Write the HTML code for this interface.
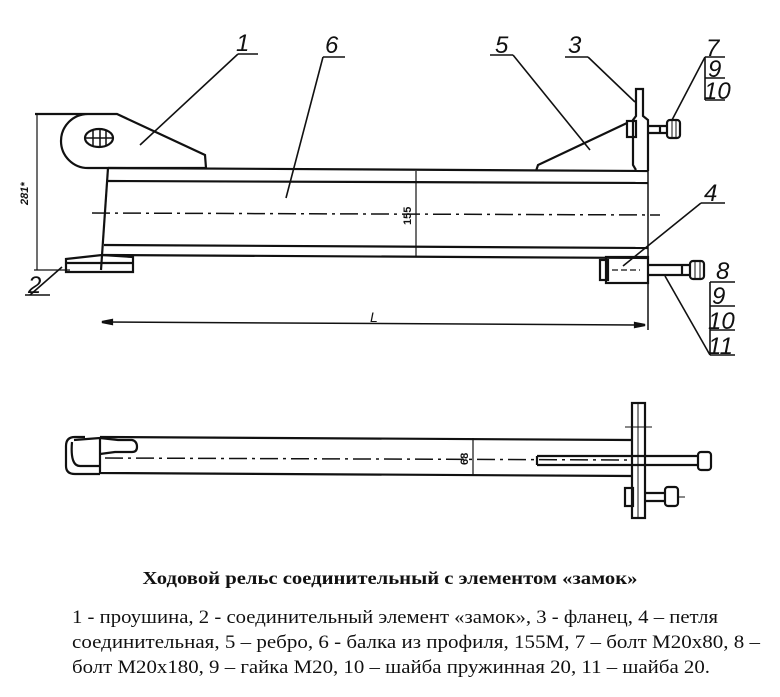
<!DOCTYPE html>
<html><head><meta charset="utf-8"><style>
html,body{margin:0;padding:0;background:#fff;}
svg{display:block}
</style></head><body>
<svg width="780" height="697" viewBox="0 0 780 697" xmlns="http://www.w3.org/2000/svg" fill="none" stroke="#111" stroke-width="2.2">
<!-- Top view: beam -->
<line x1="108" y1="168" x2="648" y2="171"/>
<line x1="108" y1="181" x2="648" y2="183"/>
<line x1="104" y1="245" x2="648" y2="248"/>
<line x1="102" y1="255" x2="648" y2="258"/>
<line x1="108" y1="168" x2="101" y2="270"/>
<line x1="648" y1="168" x2="648" y2="330" stroke-width="1.5"/>
<line x1="92" y1="213" x2="660" y2="215" stroke-width="1.5" stroke-dasharray="18,5,3,5"/>
<!-- eye lug 1 -->
<path d="M35 114 L117 114 L205 155 L206 168 L88 168 A27 27 0 0 1 88 114"/>
<ellipse cx="99" cy="138" rx="14" ry="9"/>
<line x1="93" y1="130" x2="93" y2="146" stroke-width="1.5"/>
<line x1="100" y1="129" x2="100" y2="147" stroke-width="1.5"/>
<line x1="106" y1="130" x2="106" y2="146" stroke-width="1.5"/>
<line x1="86" y1="138" x2="112" y2="138" stroke-width="1.5"/>
<!-- element 2 -->
<path d="M66 259 L102 255 L133 257 L133 272 L66 272 Z"/>
<line x1="66" y1="263" x2="133" y2="263"/>
<!-- dim 281 -->
<line x1="37" y1="114" x2="37" y2="270" stroke-width="1.2"/>
<line x1="34" y1="270" x2="70" y2="270" stroke-width="1.2"/>
<text x="28" y="205" transform="rotate(-90 28 205)" font-family="Liberation Sans,sans-serif" font-size="11" font-style="italic" font-weight="bold" fill="#111" stroke="none">281*</text>
<!-- L dimension -->
<line x1="102" y1="322" x2="645" y2="325" stroke-width="1.5"/>
<path d="M102 322 l10 -2 l0 4z M645 325 l-10 -2 l0 4z" fill="#111"/>
<text x="370" y="322" font-family="Liberation Sans,sans-serif" font-size="14" font-style="italic" fill="#111" stroke="none">L</text>
<!-- 155 dim -->
<line x1="416" y1="171" x2="416" y2="257" stroke-width="1.2"/>
<text x="411" y="225" transform="rotate(-90 411 225)" font-family="Liberation Sans,sans-serif" font-size="11" font-weight="bold" fill="#111" stroke="none">155</text>
<!-- rib 5 -->
<path d="M536 171 L538 165 L627 123"/>
<!-- flange 3 -->
<path d="M636 170 L633 165 L633 120 L636 116 L636 89 L643 89 L643 116 L648 120 L648 171"/>
<!-- bolt 7 -->
<rect x="627" y="121" width="9" height="16"/>
<path d="M648 126 L667 126 M648 133 L667 133 M660 126 L660 133"/>
<rect x="667" y="120" width="13" height="18" rx="3"/>
<line x1="672" y1="120" x2="672" y2="138" stroke-width="1"/>
<line x1="676" y1="120" x2="676" y2="138" stroke-width="1"/>
<!-- element 4 & bolt 8 -->
<rect x="606" y="257" width="42" height="26"/>
<rect x="600" y="260" width="8" height="20"/>
<line x1="612" y1="270" x2="640" y2="270" stroke-dasharray="6,3" stroke-width="1.3"/>
<path d="M648 265 L690 265 M648 275 L690 275 M682 265 L682 275"/>
<rect x="690" y="261" width="14" height="18" rx="3"/>
<line x1="695" y1="261" x2="695" y2="279" stroke-width="1"/>
<line x1="700" y1="261" x2="700" y2="279" stroke-width="1"/>
<!-- leaders -->
<g stroke-width="1.6">
<line x1="140" y1="145" x2="238" y2="54"/><line x1="238" y1="54" x2="258" y2="54"/>
<line x1="286" y1="198" x2="323" y2="57"/><line x1="323" y1="57" x2="345" y2="57"/>
<line x1="590" y1="150" x2="513" y2="55"/><line x1="490" y1="55" x2="513" y2="55"/>
<line x1="635" y1="102" x2="588" y2="57"/><line x1="565" y1="57" x2="588" y2="57"/>
<line x1="672" y1="120" x2="705" y2="57"/><line x1="705" y1="57" x2="725" y2="57"/>
<line x1="705" y1="57" x2="705" y2="100"/><line x1="705" y1="78" x2="725" y2="78"/><line x1="705" y1="100" x2="725" y2="100"/>
<line x1="623" y1="266" x2="701" y2="203"/><line x1="701" y1="203" x2="725" y2="203"/>
<line x1="665" y1="276" x2="710" y2="355"/><line x1="710" y1="282" x2="710" y2="355"/>
<line x1="710" y1="282" x2="735" y2="282"/><line x1="710" y1="306" x2="735" y2="306"/><line x1="710" y1="330" x2="735" y2="330"/><line x1="710" y1="355" x2="735" y2="355"/>
<line x1="62" y1="267" x2="30" y2="295"/><line x1="25" y1="295" x2="50" y2="295"/>
</g>
<g font-family="Liberation Sans,sans-serif" font-style="italic" font-size="24" fill="#111" stroke="none">
<text x="236" y="51">1</text><text x="325" y="53">6</text><text x="495" y="53">5</text><text x="568" y="53">3</text>
<text x="706" y="56">7</text><text x="708" y="77">9</text><text x="704" y="99">10</text>
<text x="704" y="201">4</text>
<text x="716" y="279">8</text><text x="712" y="304">9</text><text x="708" y="329">10</text><text x="708" y="354">11</text>
<text x="28" y="293">2</text>
</g>
<!-- Bottom view -->
<path d="M100 437 L632 440 M100 473 L632 476 M100 437 L100 473"/>
<path d="M85 437 L75 437 Q66 437 66 446 L66 466 Q66 474 75 474 L100 474"/>
<path d="M72 442 Q70 466 80 466 L100 466 M74 440 L100 438 L118 440 L132 440 Q137 441 137 447 Q137 452 132 452 L115 452 L100 454"/>
<line x1="105" y1="458" x2="632" y2="460" stroke-width="1.5" stroke-dasharray="18,5,3,5"/>
<line x1="473" y1="438" x2="473" y2="475" stroke-width="1.2"/>
<text x="468" y="465" transform="rotate(-90 468 465)" font-family="Liberation Sans,sans-serif" font-size="11" font-weight="bold" fill="#111" stroke="none">68</text>
<rect x="632" y="403" width="13" height="115"/>
<line x1="638" y1="403" x2="638" y2="518" stroke-width="1"/>
<path d="M537 456 L698 456 M537 465 L698 465 M537 456 L537 465"/>
<rect x="698" y="452" width="13" height="18" rx="3"/>
<line x1="625" y1="427" x2="652" y2="427" stroke-width="1"/>
<rect x="625" y="488" width="8" height="18"/>
<path d="M645 493 L665 493 M645 501 L665 501"/>
<rect x="665" y="487" width="13" height="19" rx="3"/>
<line x1="678" y1="497" x2="685" y2="497" stroke-width="1"/>
<!-- Text -->
<g font-family="Liberation Serif,serif" fill="#111" stroke="none">
<text x="390" y="584" text-anchor="middle" font-weight="bold" font-size="18" textLength="495" lengthAdjust="spacingAndGlyphs">Ходовой рельс соединительный с элементом «замок»</text>
<text x="72" y="623" font-size="19" textLength="646" lengthAdjust="spacingAndGlyphs">1 - проушина, 2 - соединительный элемент «замок», 3 - фланец, 4 – петля</text>
<text x="72" y="648" font-size="19" textLength="688" lengthAdjust="spacingAndGlyphs">соединительная, 5 – ребро, 6 - балка из профиля, 155М, 7 – болт М20х80, 8 –</text>
<text x="72" y="673" font-size="19" textLength="638" lengthAdjust="spacingAndGlyphs">болт М20х180, 9 – гайка М20, 10 – шайба пружинная 20, 11 – шайба 20.</text>
</g>
</svg>
</body></html>
